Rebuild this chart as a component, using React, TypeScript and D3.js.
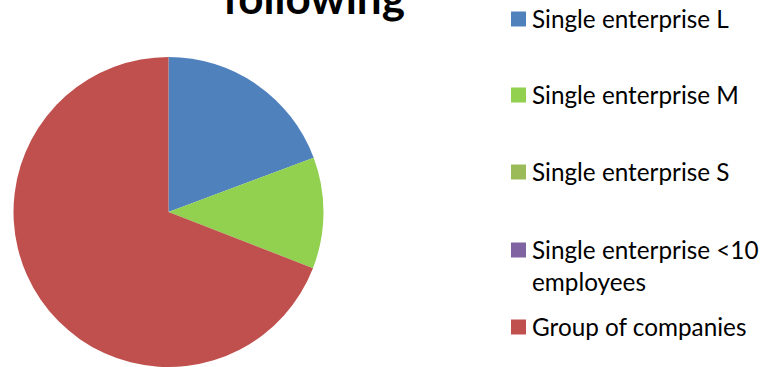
import React from "react";
import * as d3 from "d3";

const categories = [
  "Single enterprise L",
  "Single enterprise M",
  "Single enterprise S",
  "Single enterprise <10 employees",
  "Group of companies",
];
const values = [19.3, 11.6, 0, 0, 69.1];
const colors = ["#4F81BD", "#92D050", "#9BBB59", "#8064A2", "#C0504D"];
const legendLines = [
  ["Single enterprise L"],
  ["Single enterprise M"],
  ["Single enterprise S"],
  ["Single enterprise <10", "employees"],
  ["Group of companies"],
];
const titleText = "following";

const W = 763;
const H = 367;

export default function App() {
  const cx = 168.5;
  const cy = 212;
  const r = 155;
  const pie = d3.pie<number>().sort(null).value((d) => d);
  const arcs = pie(values);
  const arc = d3.arc<d3.PieArcDatum<number>>().innerRadius(0).outerRadius(r);
  const legendY = [19, 95, 172, 250, 327];
  const font = "Lato, 'Open Sans', sans-serif";
  return (
    <svg
      width={W}
      height={H}
      style={{ position: "absolute", left: 0, top: 0, background: "#fff" }}
    >
      <text
        x={314}
        y={14}
        textAnchor="middle"
        fontFamily={font}
        fontWeight="bold"
        fontSize={44}
        fill="#000"
      >
        {titleText}
      </text>
      <g transform={`translate(${cx},${cy})`}>
        {arcs.map((a, i) =>
          a.value > 0 ? (
            <path key={categories[i]} d={arc(a) || ""} fill={colors[i]} />
          ) : null
        )}
      </g>
      {legendLines.map((lines, i) => (
        <g key={categories[i]}>
          <rect
            x={511}
            y={legendY[i] - 7.5}
            width={15}
            height={15}
            fill={colors[i]}
          />
          {lines.map((t, j) => (
            <text
              key={j}
              x={532}
              y={legendY[i] + j * 32}
              dy="0.35em"
              fontFamily={font}
              fontSize={24.3}
              fill="#000"
            >
              {t}
            </text>
          ))}
        </g>
      ))}
    </svg>
  );
}
